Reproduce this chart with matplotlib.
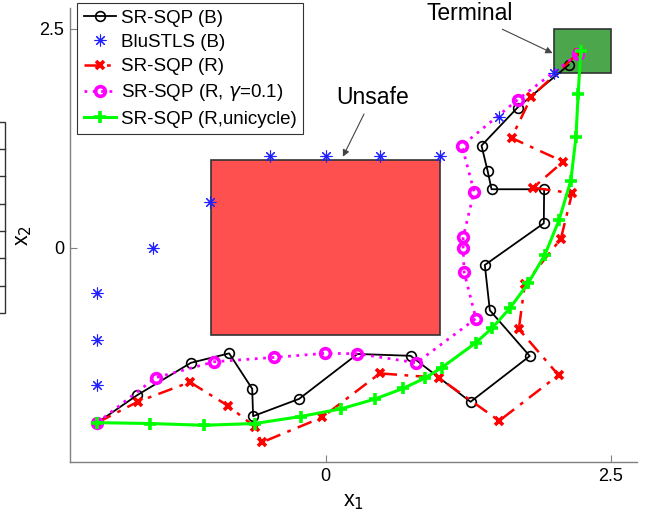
import matplotlib
matplotlib.use("Agg")
import matplotlib.pyplot as plt
from matplotlib.patches import Rectangle
from matplotlib.lines import Line2D

plt.rcParams["font.family"] = ["Liberation Sans", "DejaVu Sans"]

# SR-SQP (B)
sqp_b_x = [-2.0, -1.65, -1.18, -0.845, -0.643, -0.635, -0.231, 0.28, 0.745, 1.271,
           1.79, 1.44, 1.396, 1.913, 1.916, 1.455, 1.42, 1.367, 1.683, 2.132]
sqp_b_y = [-2.0, -1.685, -1.316, -1.208, -1.613, -1.926, -1.728, -1.215, -1.236, -1.762,
           -1.239, -0.716, -0.198, 0.279, 0.668, 0.668, 0.881, 1.167, 1.602, 2.09]

# BluSTLS (B)
blu_x = [-2.0, -2.0, -2.0, -1.51, -1.01, -0.49, 0.0, 0.48, 1.0, 1.52, 2.0]
blu_y = [-1.57, -1.05, -0.52, 0.0, 0.52, 1.05, 1.05, 1.05, 1.05, 1.49, 2.0]

# SR-SQP (R)
sqp_r_x = [-2.0, -1.648, -1.189, -0.854, -0.62, -0.561, -0.03, 0.476, 0.993, 1.522,
           2.042, 1.694, 1.747, 2.062, 2.161, 1.82, 2.083, 1.63, 1.805, 2.214]
sqp_r_y = [-2.0, -1.762, -1.537, -1.808, -2.048, -2.227, -1.94, -1.437, -1.487, -1.979,
           -1.457, -0.93, -0.415, 0.1, 0.622, 0.686, 0.984, 1.255, 1.728, 2.224]

# SR-SQP (R, gamma=0.1)
sqp_g_x = [-2.0, -1.49, -0.976, -0.45, -0.006, 0.28, 0.797, 1.318, 1.215, 1.206,
           1.206, 1.302, 1.195, 1.683, 2.209]
sqp_g_y = [-2.0, -1.487, -1.304, -1.254, -1.208, -1.212, -1.316, -0.81, -0.28, -0.007,
           0.119, 0.641, 1.167, 1.69, 2.213]

# SR-SQP (R, unicycle)
uni_x = [-2.0, -1.54, -1.067, -0.62, -0.219, 0.137, 0.432, 0.68, 0.876, 1.017,
         1.317, 1.462, 1.615, 1.776, 1.922, 2.047, 2.15, 2.195, 2.214, 2.237]
uni_y = [-2.0, -2.01, -2.03, -2.01, -1.93, -1.842, -1.731, -1.609, -1.487, -1.373,
         -1.087, -0.916, -0.693, -0.407, -0.083, 0.317, 0.767, 1.265, 1.755, 2.243]

unsafe_box = (-1.0, -1.0, 2.0, 2.0)
terminal_box = (2.0, 2.0, 0.5, 0.5)

fig = plt.figure(figsize=(6.45, 5.18), dpi=100)
ax = fig.add_axes([70 / 645, 1 - 462 / 518, 567 / 645, 454 / 518])

ax.add_patch(Rectangle(unsafe_box[:2], unsafe_box[2], unsafe_box[3],
                       facecolor="#ff5050", edgecolor="#333333", lw=1.2, zorder=1))
ax.add_patch(Rectangle(terminal_box[:2], terminal_box[2], terminal_box[3],
                       facecolor="#4ca64c", edgecolor="#333333", lw=1.2, zorder=1))

ax.plot(sqp_b_x, sqp_b_y, color="black", lw=1.3, marker="o", ms=7,
        mfc="none", mec="black", mew=1.2, label="SR-SQP (B)", zorder=3)
ax.plot(blu_x, blu_y, ls="none", marker=(8, 2, 0), ms=8.5, mec="#2020ff",
        mew=0.8, label="BluSTLS (B)", zorder=4)
ax.plot(sqp_r_x, sqp_r_y, color="red", lw=1.8, ls=(0, (6, 3, 1.5, 3)), marker="x",
        ms=5.5, mew=2.6, label="SR-SQP (R)", zorder=3)
ax.plot(sqp_g_x, sqp_g_y, color="#ff00ff", lw=2, ls=(0, (1, 2)), marker="o", ms=7,
        mfc="none", mew=2.6, label="SR-SQP (R, $\\gamma$=0.1)", zorder=3)
ax.plot(uni_x, uni_y, color="#00ff00", lw=2.2, marker="+", ms=8, mew=2.6,
        label="SR-SQP (R,unicycle)", zorder=3)

arrow = dict(arrowstyle="-|>", color="#444444", lw=0.8, mutation_scale=10,
             shrinkA=2, shrinkB=0)
ax.annotate("Unsafe", xy=(0.152, 1.04), xytext=(0.41, 1.72), fontsize=16.5,
            ha="center", va="center", arrowprops=arrow)
ax.annotate("Terminal", xy=(1.99, 2.224), xytext=(1.265, 2.674), fontsize=16.5,
            ha="center", va="center", arrowprops=arrow)

ax.set_xlim(-2.24, 2.73)
ax.set_ylim(-2.45, 2.74)
ax.set_xticks([0, 2.5])
ax.set_xticklabels(["0", "2.5"])
ax.set_yticks([0, 2.5])
ax.set_yticklabels(["0", "2.5"])
ax.tick_params(direction="in", length=5, width=0.8, color="#808080",
               labelsize=13, pad=4)
for side in ["top", "right"]:
    ax.spines[side].set_visible(False)
for side in ["left", "bottom"]:
    ax.spines[side].set_color("#808080")
    ax.spines[side].set_linewidth(1.0)
ax.set_xlabel("x$_1$", fontsize=15.5, labelpad=5)
ax.set_ylabel("x$_2$", fontsize=15.5, labelpad=4)

leg = ax.legend(loc="upper left", bbox_to_anchor=(77 / 645, 1 - 3 / 518),
                bbox_transform=fig.transFigure, borderaxespad=0, fontsize=13.5,
                handlelength=1.75, handletextpad=0.25, labelspacing=0.38,
                borderpad=0.35, fancybox=False, framealpha=1)
leg.get_frame().set_edgecolor("#333333")
leg.get_frame().set_linewidth(0.8)

# cut-off panel on the left edge of the figure
top_px, bot_px = 121.7, 313.0
fig.add_artist(Rectangle((-0.01, 1 - bot_px / 518), 0.01 + 5 / 645, (bot_px - top_px) / 518,
                         transform=fig.transFigure, fill=False, ec="#333333", lw=1))
for i in range(1, 7):
    yy = 1 - (top_px + i * (bot_px - top_px) / 7) / 518
    fig.add_artist(Line2D([0, 5 / 645], [yy, yy], transform=fig.transFigure,
                          color="#333333", lw=1))

fig.savefig("out.png", dpi=100)
